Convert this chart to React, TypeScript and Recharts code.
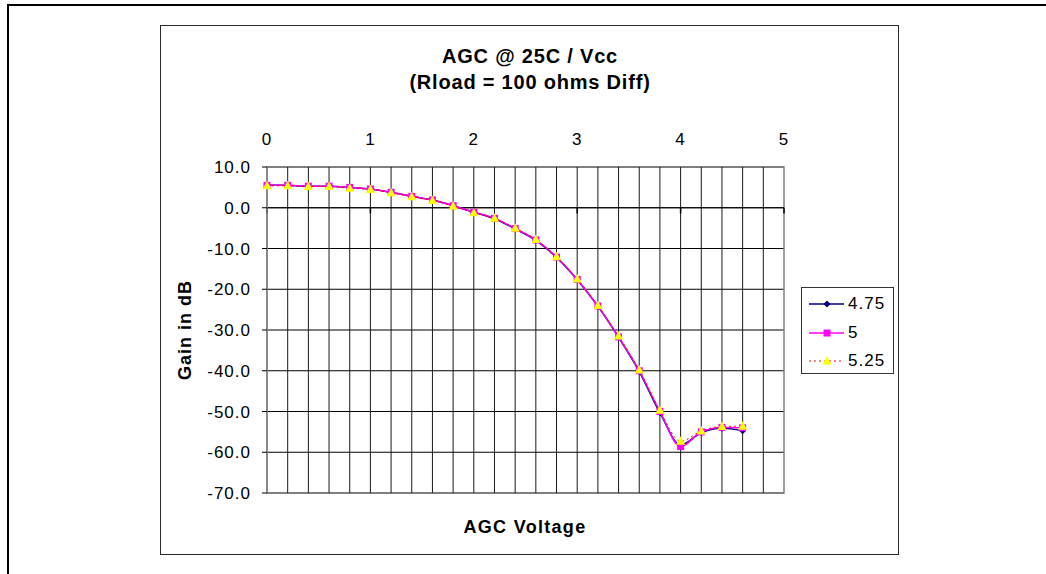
import React from "react";
import {
  LineChart,
  Line,
  XAxis,
  YAxis,
  CartesianGrid,
  ReferenceLine,
  ReferenceArea,
} from "recharts";

// ── Data ──────────────────────────────────────────────────────────────

const voltage = [0, 0.2, 0.4, 0.6, 0.8, 1.0, 1.2, 1.4, 1.6, 1.8, 2.0, 2.2, 2.4, 2.6, 2.8, 3.0, 3.2, 3.4, 3.6, 3.8, 4.0, 4.2, 4.4, 4.6];

const gain475 = [5.6, 5.5, 5.3, 5.3, 5.0, 4.6, 3.8, 2.8, 1.9, 0.5, -1.1, -2.7, -5.2, -8.0, -12.2, -17.7, -24.2, -31.8, -40.2, -50.3, -58.2, -55.2, -54.1, -54.7];
const gain5 = [5.5, 5.5, 5.3, 5.3, 5.0, 4.6, 3.8, 2.8, 1.9, 0.5, -1.1, -2.6, -5.1, -7.9, -12.1, -17.6, -24.1, -31.7, -40.0, -50.0, -58.6, -55.0, -53.9, -54.0];
const gain525 = [5.4, 5.4, 5.2, 5.2, 4.8, 4.5, 3.7, 2.7, 1.8, 0.4, -1.2, -2.6, -5.0, -7.8, -12.0, -17.5, -24.0, -31.5, -39.8, -49.7, -57.3, -54.8, -53.7, -53.6];

const xTicks = [0, 1, 2, 3, 4, 5];
const yTicks = [-70, -60, -50, -40, -30, -20, -10, 0, 10];
const gridX = [0.2, 0.4, 0.6, 0.8, 1, 1.2, 1.4, 1.6, 1.8, 2, 2.2, 2.4, 2.6, 2.8, 3, 3.2, 3.4, 3.6, 3.8, 4, 4.2, 4.4, 4.6, 4.8];

const data = voltage.map((v, i) => ({ v, a: gain475[i], b: gain5[i], c: gain525[i] }));

const FONT = "'Liberation Sans', Arial, sans-serif";

// ── Markers ───────────────────────────────────────────────────────────

function diamond(p: any) {
  const { cx, cy, index } = p;
  if (cx == null || cy == null) return <g key={`a-${index}`} />;
  const r = 3.5;
  return (
    <path key={`a-${index}`} d={`M${cx},${cy - r}L${cx + r},${cy}L${cx},${cy + r}L${cx - r},${cy}Z`} fill="#000080" />
  );
}

function square(p: any) {
  const { cx, cy, index } = p;
  if (cx == null || cy == null) return <g key={`b-${index}`} />;
  return <rect key={`b-${index}`} x={cx - 3.5} y={cy - 3.5} width={7} height={7} fill="#FF00FF" />;
}

function triangle(p: any) {
  const { cx, cy, index } = p;
  if (cx == null || cy == null) return <g key={`c-${index}`} />;
  return (
    <path key={`c-${index}`} d={`M${cx},${cy - 5}L${cx + 4.5},${cy + 3.5}L${cx - 4.5},${cy + 3.5}Z`} fill="#FFFF00" />
  );
}

// ── Legend ────────────────────────────────────────────────────────────

const legendItems = [
  { name: "4.75", color: "#000080", dash: undefined, marker: "diamond" },
  { name: "5", color: "#FF00FF", dash: undefined, marker: "square" },
  { name: "5.25", color: "#FF0000", dash: "2 3", marker: "triangle" },
];

function LegendBox() {
  return (
    <div style={{
      position: "absolute",
      left: 801,
      top: 287,
      width: 93,
      height: 87,
      boxSizing: "border-box",
      border: "1px solid #333",
      background: "#fff",
      fontFamily: FONT,
      fontSize: 17,
      letterSpacing: 1,
      paddingTop: 2,
    }}>
      {legendItems.map((it) => (
        <div key={it.name} style={{ display: "flex", alignItems: "center", height: 28.5 }}>
          <svg width={46} height={14} style={{ marginLeft: 6 }}>
            <line x1={1} y1={7} x2={36} y2={7} stroke={it.color} strokeWidth={it.dash ? 1 : 1.5} strokeDasharray={it.dash} />
            {it.marker === "diamond" && <path d="M19,3.5L22.5,7L19,10.5L15.5,7Z" fill="#000080" />}
            {it.marker === "square" && <rect x={15.5} y={3.5} width={7} height={7} fill="#FF00FF" />}
            {it.marker === "triangle" && <path d="M19,2L23.5,10.5L14.5,10.5Z" fill="#FFFF00" />}
          </svg>
          <span style={{ marginLeft: -6 }}>{it.name}</span>
        </div>
      ))}
    </div>
  );
}

// ── Main ──────────────────────────────────────────────────────────────

export default function App() {
  return (
    <div style={{
      position: "absolute",
      left: 0,
      top: 0,
      width: 1046,
      height: 574,
      overflow: "hidden",
      background: "#fff",
      fontFamily: FONT,
    }}>
      {/* outer frame */}
      <div style={{
        position: "absolute",
        left: 7,
        top: 4,
        width: 1200,
        height: 800,
        borderLeft: "2px solid #000",
        borderTop: "2px solid #000",
      }} />

      {/* chart box */}
      <div style={{
        position: "absolute",
        left: 160,
        top: 25,
        width: 739,
        height: 530,
        boxSizing: "border-box",
        border: "1.5px solid #2a2a2a",
      }} />

      {/* title */}
      <div style={{
        position: "absolute",
        left: 330,
        width: 400,
        top: 43,
        textAlign: "center",
        fontWeight: 700,
        fontSize: 20,
        lineHeight: "26px",
        letterSpacing: 0.8,
        color: "#000",
      }}>
        <div>AGC @ 25C / Vcc</div>
        <div>(Rload = 100 ohms Diff)</div>
      </div>

      {/* axis titles */}
      <div style={{
        position: "absolute",
        left: 425,
        width: 200,
        top: 517,
        textAlign: "center",
        fontWeight: 700,
        fontSize: 18,
        lineHeight: "20px",
        letterSpacing: 1.3,
      }}>
        AGC Voltage
      </div>
      <div style={{
        position: "absolute",
        left: 185,
        top: 330,
        transform: "translate(-50%, -50%) rotate(-90deg)",
        whiteSpace: "nowrap",
        fontWeight: 700,
        fontSize: 18,
        lineHeight: "20px",
        letterSpacing: 1,
      }}>
        Gain in dB
      </div>

      <div style={{ position: "absolute", left: 160, top: 25 }}>
        <LineChart
          width={738}
          height={529}
          data={data}
          margin={{ top: 112, right: 114, bottom: 61, left: 47 }}
        >
          <CartesianGrid vertical={false} stroke="#000" strokeWidth={1} />

          {gridX.map((gx) => (
            <ReferenceLine key={`g-${gx}`} x={gx} stroke="#1a1a1a" strokeWidth={1} />
          ))}

          <ReferenceLine y={0} stroke="#000" strokeWidth={1} />
          {xTicks.map((t) => (
            <ReferenceLine
              key={`t-${t}`}
              segment={[{ x: t, y: 0 }, { x: t, y: -1.4 }]}
              stroke="#000"
              strokeWidth={1.5}
            />
          ))}

          <ReferenceArea x1={0} x2={5} y1={-70} y2={10} fill="none" stroke="#808080" strokeWidth={1.5} />

          <XAxis
            dataKey="v"
            type="number"
            orientation="top"
            domain={[0, 5]}
            ticks={xTicks}
            height={30}
            axisLine={false}
            tickLine={false}
            tickMargin={16}
            tick={{ fontSize: 17, fill: "#000", fontFamily: FONT, letterSpacing: 1 }}
          />
          <YAxis
            type="number"
            domain={[-70, 10]}
            ticks={yTicks}
            width={60}
            tickFormatter={(v: number) => v.toFixed(1)}
            axisLine={{ stroke: "#808080", strokeWidth: 1.5 }}
            tickLine={{ stroke: "#000" }}
            tickSize={5}
            tickMargin={11}
            tick={{ fontSize: 17, fill: "#000", fontFamily: FONT, letterSpacing: 1 }}
          />

          <Line
            type="monotone"
            dataKey="a"
            name="4.75"
            stroke="#000080"
            strokeWidth={1.5}
            dot={diamond}
            activeDot={false}
            isAnimationActive={false}
          />
          <Line
            type="monotone"
            dataKey="b"
            name="5"
            stroke="#FF00FF"
            strokeWidth={1.5}
            dot={square}
            activeDot={false}
            isAnimationActive={false}
          />
          <Line
            type="monotone"
            dataKey="c"
            name="5.25"
            stroke="#FF0000"
            strokeWidth={1}
            strokeDasharray="2 3"
            dot={triangle}
            activeDot={false}
            isAnimationActive={false}
          />
        </LineChart>
      </div>

      <LegendBox />
    </div>
  );
}
